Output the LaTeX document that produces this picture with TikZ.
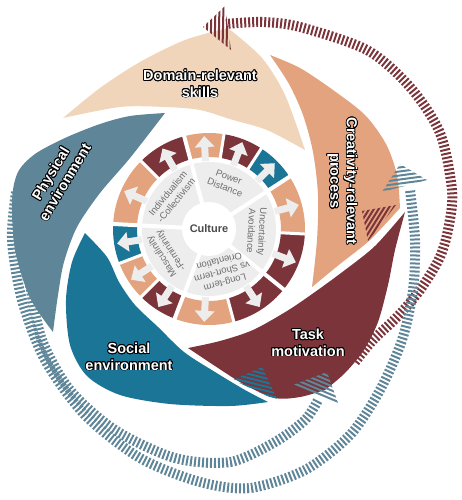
\documentclass[tikz,border=0pt]{standalone}
\usepackage{fontspec}
\setmainfont{Liberation Sans}
\usepackage{contour}
\definecolor{skillpeach}{HTML}{F1D5BA}
\definecolor{processsalmon}{HTML}{E2A37E}
\definecolor{taskred}{HTML}{7B343A}
\definecolor{socialteal}{HTML}{1A7596}
\definecolor{physblue}{HTML}{5F8698}
\definecolor{discgrey}{HTML}{EDEDED}
\definecolor{dimtext}{HTML}{6E6E6E}
\definecolor{culturetext}{HTML}{4A4A4A}
\contourlength{0.8pt}
\newcommand\lbl[1]{\contour{black}{#1}}
\tikzset{
  hatch/.style={draw=#1,line width=10pt,dash pattern=on 2pt off 2pt},
  petal/.style={font=\bfseries\fontsize{14.5}{16.5}\selectfont,align=center,text=white},
  dimension/.style={font=\fontsize{9.5}{11}\selectfont,align=center,text=dimtext},
}
\begin{document}
\begin{tikzpicture}[x=1pt,y=-1pt]
  \useasboundingbox (0,0) rectangle (461,500);

  \draw[hatch=taskred] plot[smooth] coordinates {(355,362) (373,340) (397,317) (420,290) (440,257) (449,225) (452,190) (440,133) (410,87) (367,50) (300,27) (262,22) (226,24)};
  \draw[hatch=physblue] plot[smooth] coordinates {(16,192) (12,240) (22,300) (45,360) (85,415) (140,458) (200,482) (250,488) (305,470) (350,435) (380,390) (402,340) (413,290) (415,240) (410,190)};
  \draw[hatch=physblue] plot[smooth] coordinates {(30,285) (42,340) (70,390) (115,430) (175,458) (230,462) (275,442) (305,420) (318,400)};

  \fill[skillpeach] plot[smooth] coordinates {(63,118) (100,88) (140,62) (185,40) (228,28)}
    -- plot[smooth] coordinates {(228,28) (262,58) (285,95) (305,150)}
    -- plot[smooth] coordinates {(305,150) (267,130) (233,120) (200,110) (165,107) (120,107) (63,118)} -- cycle;
  \fill[processsalmon] plot[smooth] coordinates {(270,55) (300,68) (333,90) (365,115) (386,144) (397,175) (400,208)}
    -- plot[smooth] coordinates {(400,208) (370,240) (340,264) (312,287)}
    -- plot[smooth] coordinates {(312,287) (317,240) (318,195) (313,152) (303,115) (289,84) (270,55)} -- cycle;
  \fill[taskred] plot[smooth] coordinates {(188,348) (220,341) (253,330) (287,311) (315,292) (345,270) (375,246) (405,212)}
    -- plot[smooth] coordinates {(405,212) (395,250) (388,285) (378,322) (364,350) (345,373) (325,390)}
    -- plot[smooth] coordinates {(325,390) (300,397) (275,398) (245,385) (215,366) (188,348)} -- cycle;
  \fill[socialteal] plot[smooth] coordinates {(85,233) (107,257) (119,282) (135,305) (158,327) (184,352) (215,372) (245,390) (268,402)}
    -- plot[smooth] coordinates {(268,402) (230,406) (170,404) (120,395) (87,376) (70,345) (66,300) (72,262) (85,233)} -- cycle;
  \fill[physblue] plot[smooth] coordinates {(165,113) (130,116) (100,124) (65,138) (35,154) (18,172) (12,200) (15,250) (30,298) (53,332)}
    -- plot[smooth] coordinates {(53,332) (58,295) (64,262) (77,227) (100,193) (130,158) (165,113)} -- cycle;

  \begin{scope}[shift={(209,229)},y=1pt]
    \fill[discgrey] (0,0) circle[radius=67];
    \foreach \a/\b/\c in {33/57/socialteal,57/81/taskred,81/105/processsalmon,
        105/135/taskred,135/177/processsalmon,
        177/201/socialteal,201/225/processsalmon,225/249/taskred,
        249/285/processsalmon,285/321/taskred,
        321/357/taskred,357/393/processsalmon} {
      \fill[\c] (\a:72) arc[start angle=\a,end angle=\b,radius=72]
        -- (\b:96) arc[start angle=\b,end angle=\a,radius=96] -- cycle;
      \pgfmathsetmacro\m{(\a+\b)/2}
      \fill[discgrey,rotate=\m] (68,-3.5) -- (82,-3.5) -- (82,-10) -- (93,0) -- (82,10) -- (82,3.5) -- (68,3.5) -- cycle;
    }
    \foreach \a in {57,81,135,201,225,285,357}
      \draw[white,line width=3pt] (\a:69) -- (\a:99);
    \foreach \a in {33,105,177,249,321}
      \draw[white,line width=4pt] (\a:26) -- (\a:99);
    \fill[white] (0,0) circle[radius=27];
    \node[font=\bfseries\fontsize{11}{13}\selectfont,text=culturetext] (culture) at (0,0) {Culture};
    \node[dimension,rotate=-21] (power) at (69:50) {Power\\Distance};
    \node[dimension,rotate=-93] (uncertainty) at (-3:48) {Uncertainty\\Avoidance};
    \node[dimension,rotate=-165] (longterm) at (-73:45) {Long-term\\vs Short-term\\Orientation};
    \node[dimension,rotate=123] (masculinity) at (-150:49) {Masculinity\\-Femininity};
    \node[dimension,rotate=51] (individualism) at (139:49) {Individualism\\-Collectivism};
  \end{scope}

  \begin{scope}
    \clip (203,27) -- (225,6) -- (231,50) -- cycle;
    \draw[hatch=taskred,line width=50pt] (240,28) -- (195,27);
  \end{scope}
  \begin{scope}
    \clip (382,192) -- (400,164) -- (427,180) -- cycle;
    \draw[hatch=physblue,line width=50pt] (405,200) -- (399,155);
  \end{scope}
  \begin{scope}
    \clip (362,211) -- (396,205) -- (368,241) -- cycle;
    \draw[hatch=taskred,line width=50pt] (395,230) -- (355,205);
  \end{scope}
  \begin{scope}
    \clip (293,385) -- (327,372) -- (338,403) -- cycle;
    \draw[hatch=physblue,line width=50pt] (312,405) -- (330,362);
  \end{scope}
  \begin{scope}
    \clip (233,380) -- (262,367) -- (278,401) -- cycle;
    \draw[hatch=socialteal,line width=50pt] (253,405) -- (265,358);
  \end{scope}

  \node[petal] (skills) at (200,84) {\lbl{Domain-relevant}\\\lbl{skills}};
  \node[petal,rotate=-90] (process) at (342,181) {\lbl{Creativity-relevant}\\\lbl{process}};
  \node[petal,rotate=59] (physical) at (58,178) {\lbl{Physical}\\\lbl{environment}};
  \node[petal] (social) at (129,357) {\lbl{Social}\\\lbl{environment}};
  \node[petal] (task) at (308,343) {\lbl{Task}\\\lbl{motivation}};
\end{tikzpicture}
\end{document}
